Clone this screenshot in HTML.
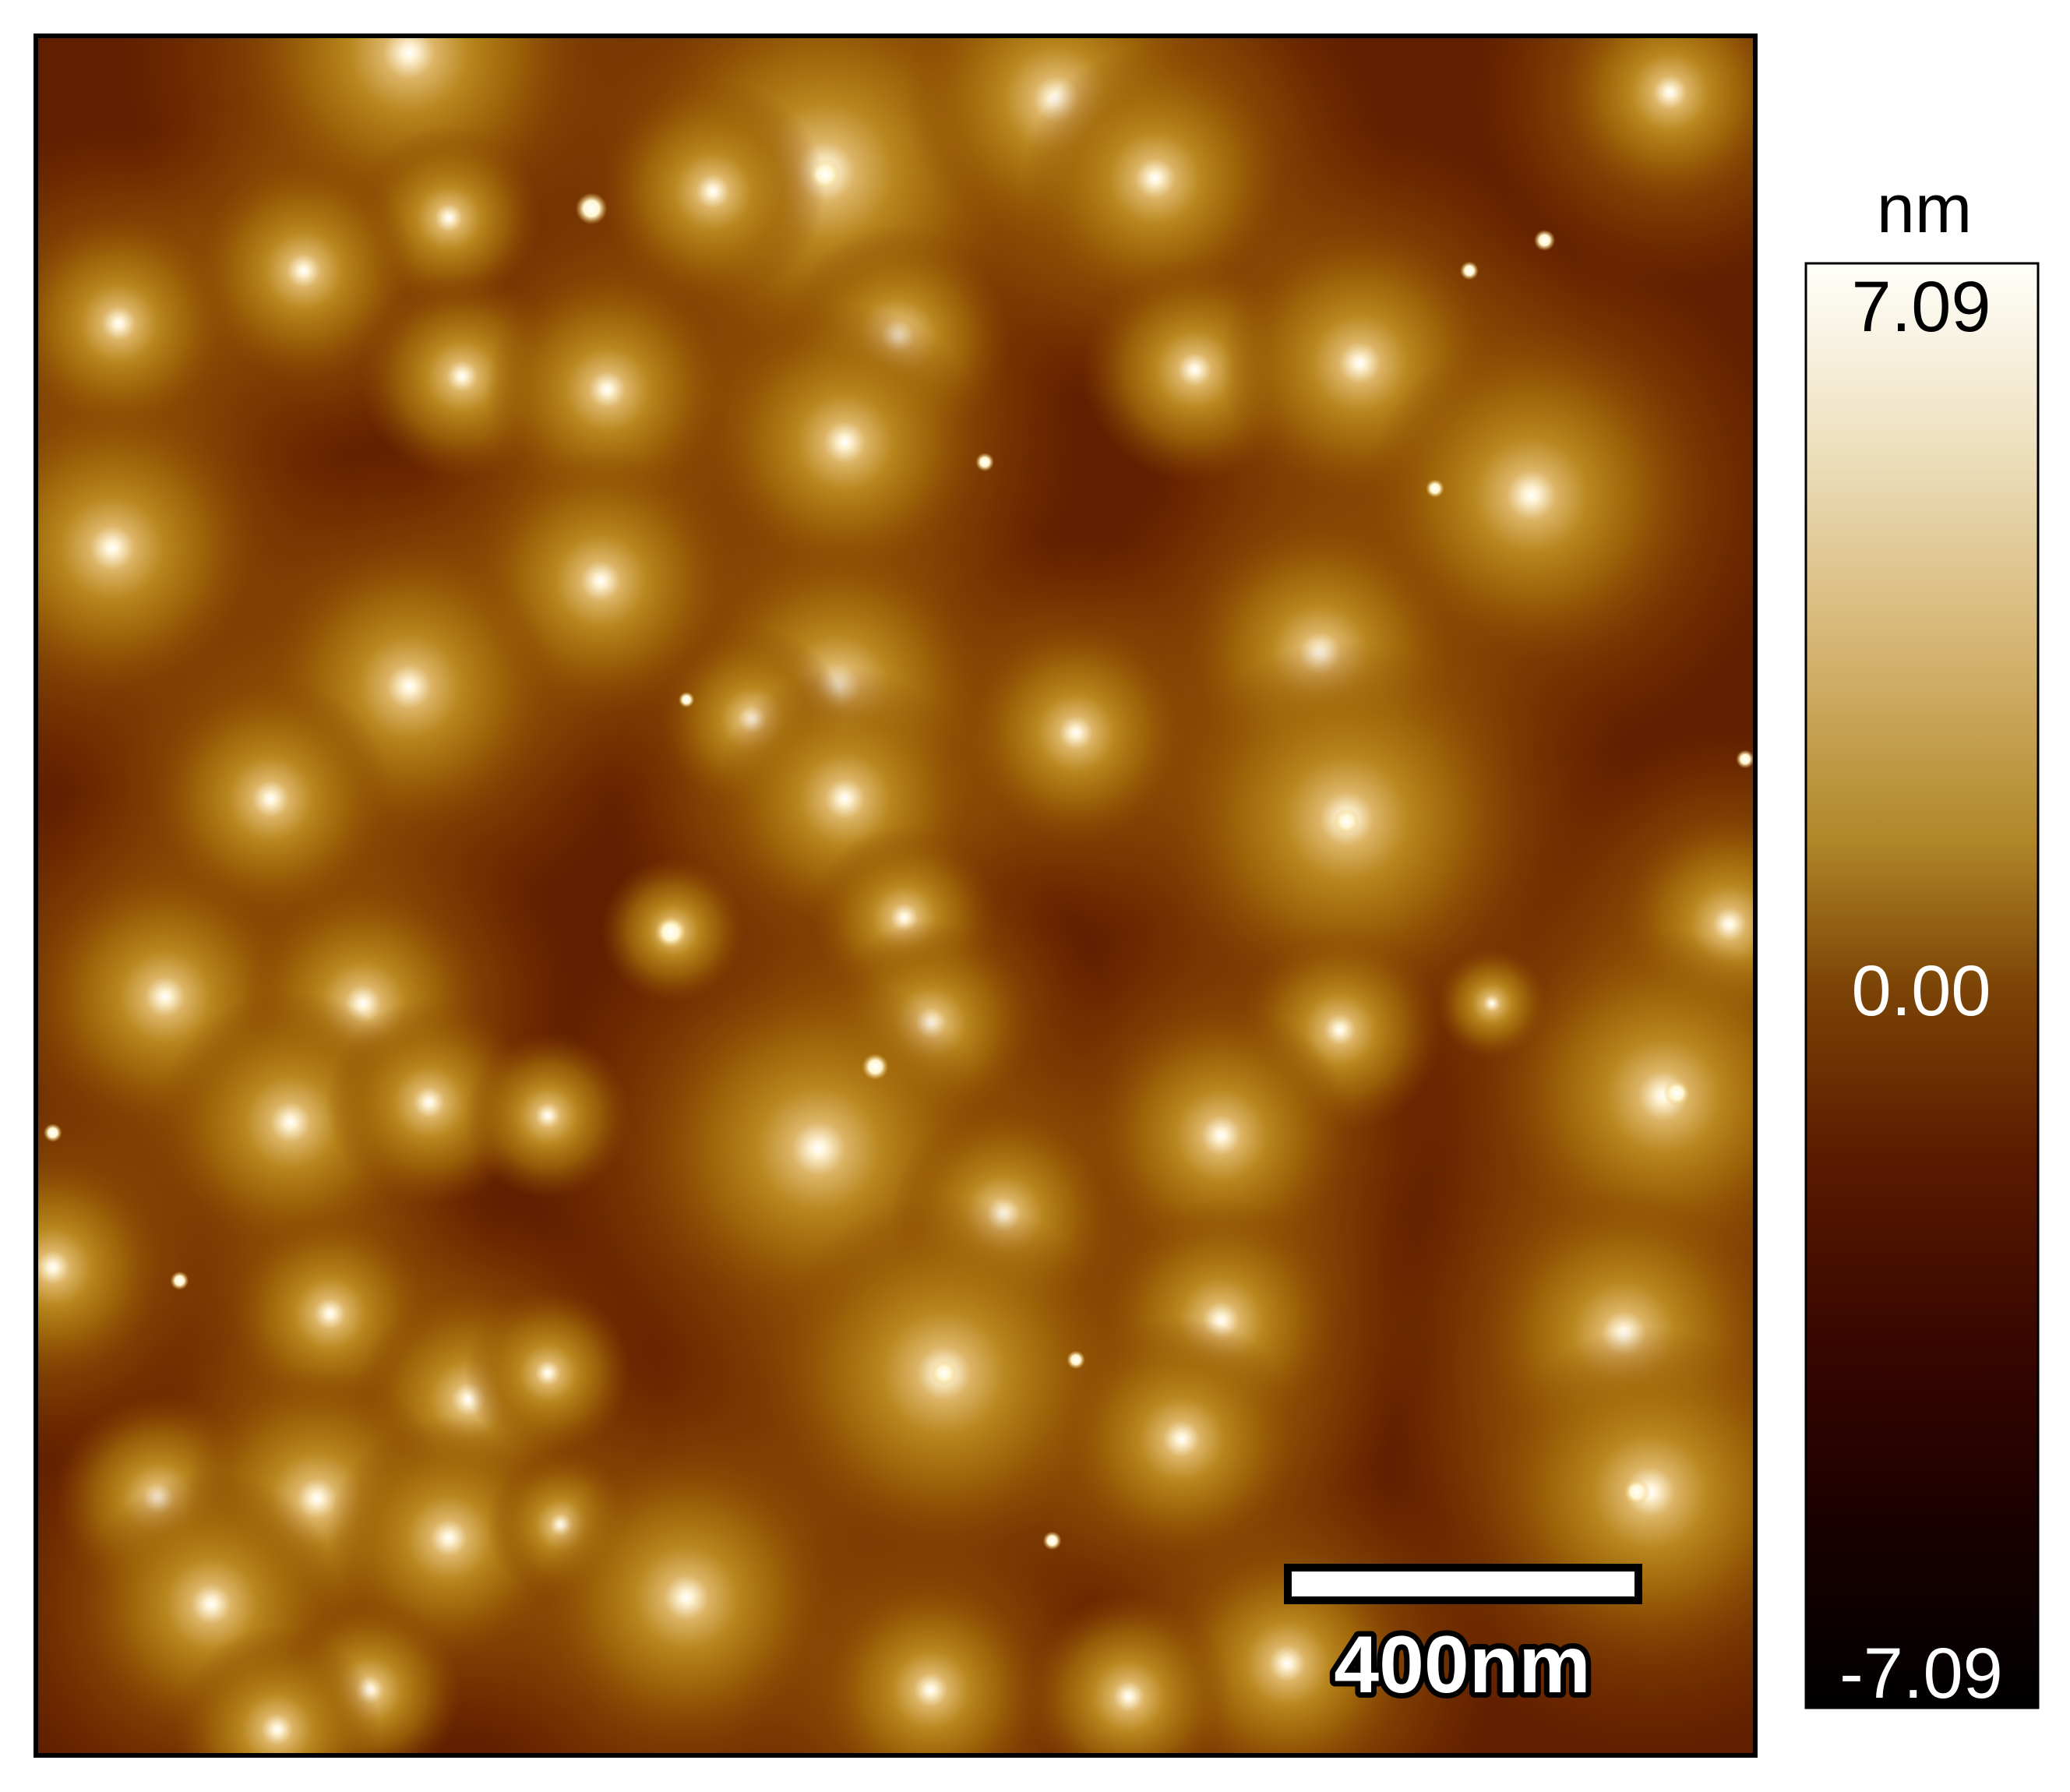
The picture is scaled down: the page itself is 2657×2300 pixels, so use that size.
<!DOCTYPE html>
<html><head><meta charset="utf-8"><style>html,body{margin:0;padding:0;background:#fff;width:2657px;height:2300px;overflow:hidden;}svg{display:block}</style></head>
<body>
<svg width="2657" height="2300" viewBox="0 0 2657 2300" xmlns="http://www.w3.org/2000/svg">
<defs>
<radialGradient id="b"><stop offset="0" stop-color="#ffffff"/><stop offset="0.04" stop-color="#fff4d8"/><stop offset="0.15" stop-color="#dcb466"/><stop offset="0.35" stop-color="#b8861e"/><stop offset="0.62" stop-color="#a26a0a" stop-opacity="0.8"/><stop offset="1" stop-color="#8a4a04" stop-opacity="0"/></radialGradient>
<radialGradient id="m"><stop offset="0" stop-color="#9e6208" stop-opacity="0.9"/><stop offset="0.6" stop-color="#8c4c04" stop-opacity="0.6"/><stop offset="1" stop-color="#7a3600" stop-opacity="0"/></radialGradient>
<radialGradient id="d"><stop offset="0" stop-color="#fff"/><stop offset="0.5" stop-color="#fff6d0"/><stop offset="1" stop-color="#e8c060" stop-opacity="0"/></radialGradient>
<linearGradient id="cb" x1="0" y1="0" x2="0" y2="1"><stop offset="0" stop-color="#fffffa"/><stop offset="0.12" stop-color="#efe2c2"/><stop offset="0.28" stop-color="#d2b06a"/><stop offset="0.4" stop-color="#b08628"/><stop offset="0.5" stop-color="#7c4406"/><stop offset="0.62" stop-color="#5a1a00"/><stop offset="0.75" stop-color="#380600"/><stop offset="0.88" stop-color="#180000"/><stop offset="1" stop-color="#000"/></linearGradient>
<clipPath id="c"><rect x="49" y="49" width="2202" height="2202"/></clipPath>
</defs>
<g clip-path="url(#c)">
<rect x="49" y="49" width="2202" height="2202" fill="#621f00"/>
<g transform="scale(1.6945)">
<g fill="url(#m)">
<circle cx="310" cy="40" r="220"/><circle cx="625" cy="130" r="250"/><circle cx="800" cy="75" r="190"/><circle cx="875" cy="135" r="180"/><circle cx="230" cy="205" r="150"/><circle cx="90" cy="245" r="150"/><circle cx="460" cy="295" r="160"/><circle cx="640" cy="335" r="180"/><circle cx="1030" cy="275" r="180"/><circle cx="1160" cy="375" r="200"/><circle cx="1265" cy="70" r="150"/><circle cx="85" cy="415" r="190"/><circle cx="455" cy="440" r="160"/><circle cx="310" cy="520" r="190"/><circle cx="635" cy="520" r="190"/><circle cx="1000" cy="495" r="180"/><circle cx="815" cy="555" r="150"/><circle cx="205" cy="605" r="160"/><circle cx="640" cy="605" r="180"/><circle cx="1020" cy="620" r="220"/><circle cx="1310" cy="700" r="150"/><circle cx="125" cy="755" r="170"/><circle cx="275" cy="760" r="160"/><circle cx="705" cy="775" r="135"/><circle cx="1260" cy="830" r="200"/><circle cx="220" cy="850" r="170"/><circle cx="620" cy="870" r="220"/><circle cx="925" cy="860" r="170"/><circle cx="760" cy="920" r="150"/><circle cx="250" cy="995" r="135"/><circle cx="925" cy="1000" r="160"/><circle cx="715" cy="1040" r="220"/><circle cx="1230" cy="1010" r="190"/><circle cx="355" cy="1060" r="150"/><circle cx="895" cy="1090" r="160"/><circle cx="240" cy="1135" r="170"/><circle cx="340" cy="1165" r="160"/><circle cx="1250" cy="1130" r="200"/><circle cx="520" cy="1210" r="190"/><circle cx="160" cy="1215" r="170"/><circle cx="975" cy="1260" r="160"/><circle cx="705" cy="1280" r="150"/><circle cx="40" cy="960" r="150"/>
</g>
<g fill="url(#b)">
<circle cx="310" cy="40" r="130"/><circle cx="625" cy="130" r="150"/><circle cx="800" cy="75" r="115"/><circle cx="875" cy="135" r="100"/><circle cx="540" cy="145" r="85"/><circle cx="340" cy="165" r="70"/><circle cx="230" cy="205" r="85"/><circle cx="90" cy="245" r="85"/><circle cx="350" cy="285" r="78"/><circle cx="460" cy="295" r="92"/><circle cx="680" cy="255" r="85"/><circle cx="640" cy="335" r="105"/><circle cx="905" cy="280" r="85"/><circle cx="1030" cy="275" r="105"/><circle cx="1160" cy="375" r="125"/><circle cx="1265" cy="70" r="85"/><circle cx="85" cy="415" r="112"/><circle cx="455" cy="440" r="100"/><circle cx="310" cy="520" r="112"/><circle cx="635" cy="520" r="112"/><circle cx="1000" cy="495" r="105"/><circle cx="815" cy="555" r="85"/><circle cx="570" cy="545" r="70"/><circle cx="205" cy="605" r="92"/><circle cx="640" cy="605" r="100"/><circle cx="1020" cy="620" r="135"/><circle cx="1310" cy="700" r="85"/><circle cx="510" cy="705" r="55"/><circle cx="685" cy="695" r="70"/><circle cx="125" cy="755" r="100"/><circle cx="275" cy="760" r="92"/><circle cx="705" cy="775" r="78"/><circle cx="1015" cy="780" r="78"/><circle cx="1260" cy="830" r="125"/><circle cx="220" cy="850" r="100"/><circle cx="325" cy="835" r="78"/><circle cx="415" cy="845" r="63"/><circle cx="620" cy="870" r="135"/><circle cx="925" cy="860" r="100"/><circle cx="760" cy="920" r="85"/><circle cx="250" cy="995" r="78"/><circle cx="925" cy="1000" r="92"/><circle cx="715" cy="1040" r="135"/><circle cx="1230" cy="1010" r="112"/><circle cx="355" cy="1060" r="85"/><circle cx="415" cy="1040" r="63"/><circle cx="895" cy="1090" r="92"/><circle cx="120" cy="1135" r="78"/><circle cx="240" cy="1135" r="100"/><circle cx="340" cy="1165" r="92"/><circle cx="425" cy="1155" r="56"/><circle cx="1250" cy="1130" r="125"/><circle cx="520" cy="1210" r="112"/><circle cx="160" cy="1215" r="100"/><circle cx="975" cy="1260" r="92"/><circle cx="280" cy="1280" r="70"/><circle cx="705" cy="1280" r="85"/><circle cx="855" cy="1285" r="78"/><circle cx="210" cy="1310" r="78"/><circle cx="1130" cy="760" r="42"/><circle cx="40" cy="960" r="85"/>
</g>
<g fill="url(#d)">
<circle cx="448" cy="158" r="12"/><circle cx="508" cy="706" r="12"/><circle cx="663" cy="808" r="10"/><circle cx="1170" cy="182" r="8"/><circle cx="1113" cy="205" r="7"/><circle cx="746" cy="350" r="7"/><circle cx="1087" cy="370" r="7"/><circle cx="1322" cy="575" r="7"/><circle cx="520" cy="530" r="6"/><circle cx="815" cy="1030" r="7"/><circle cx="797" cy="1167" r="7"/><circle cx="136" cy="970" r="7"/><circle cx="40" cy="858" r="7"/><circle cx="1270" cy="828" r="10"/><circle cx="1240" cy="1130" r="10"/><circle cx="1020" cy="622" r="10"/><circle cx="625" cy="132" r="12"/><circle cx="715" cy="1040" r="10"/>
</g>
</g>
</g>
<rect x="46" y="46" width="2207" height="2207" fill="none" stroke="#000" stroke-width="6"/>
<rect x="1653" y="2012" width="450" height="42" fill="#fff" stroke="#000" stroke-width="10"/>
<text x="1877" y="2172" font-family="Liberation Sans, sans-serif" font-weight="bold" font-size="104" text-anchor="middle" fill="#fff" stroke="#000" stroke-width="14" stroke-linejoin="round" paint-order="stroke">400nm</text>
<rect x="2318" y="338" width="298" height="1854" fill="url(#cb)" stroke="#000" stroke-width="3"/>
<text x="2470" y="298" font-family="Liberation Sans, sans-serif" font-size="88" text-anchor="middle" fill="#000">nm</text>
<text x="2466" y="425" font-family="Liberation Sans, sans-serif" font-size="92" text-anchor="middle" fill="#000">7.09</text>
<text x="2466" y="1303" font-family="Liberation Sans, sans-serif" font-size="92" text-anchor="middle" fill="#fff">0.00</text>
<text x="2466" y="2179" font-family="Liberation Sans, sans-serif" font-size="92" text-anchor="middle" fill="#fff">-7.09</text>
</svg>
</body></html>
